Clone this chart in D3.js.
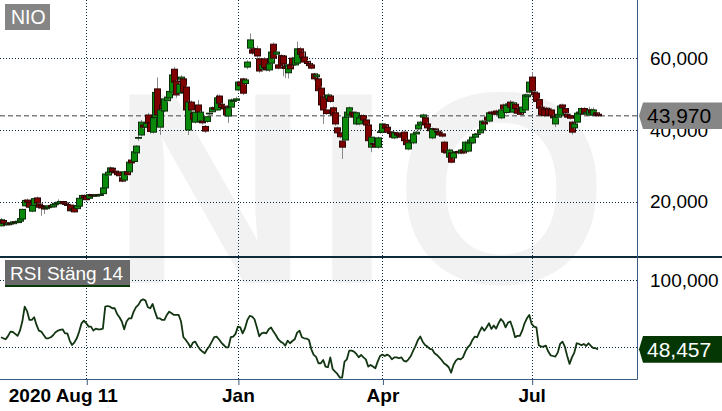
<!DOCTYPE html>
<html><head><meta charset="utf-8">
<script src="https://cdn.jsdelivr.net/npm/d3@7/dist/d3.min.js"></script>
<style>html,body{margin:0;padding:0;background:#fff;}svg{display:block;font-family:"Liberation Sans",Arial,sans-serif;}</style>
</head><body>
<svg id="chart" width="722" height="411"></svg>
<script>
// ---- data ----
const symbol = "NIO";
const rsiTitle = "RSI Stäng 14";
const xTickIdx = [36, 100, 161, 224];
const xTickLabels = ["2020 Aug 11", "Jan", "Apr", "Jul"];
const priceTicks = [20, 40, 60];
const rsiGrid = [50, 100];
const rsiLabelTicks = [100];

const openP = [
13.2,14.7,13.9,13.5,14.0,13.8,14.3,14.1,14.5,15.1,
18.8,20.4,19.7,17.3,18.9,21.0,19.3,18.9,18.6,18.0,
18.3,18.9,18.5,19.1,19.4,19.5,20.0,19.6,19.2,19.0,
17.6,18.2,18.0,18.7,20.9,21.7,21.5,20.9,21.9,21.8,
21.5,21.9,21.7,22.2,23.8,27.4,28.2,29.3,28.5,28.3,
28.0,26.6,26.0,28.3,28.3,31.6,31.2,33.6,37.7,38.6,
41.4,40.8,44.2,42.0,39.4,43.5,51.5,40.8,47.0,45.3,
48.2,49.0,50.6,57.0,53.7,50.3,54.2,54.3,52.0,40.0,
47.8,44.7,42.2,47.0,42.4,42.5,41.0,42.4,44.5,45.1,
46.2,45.6,49.5,47.2,46.7,46.2,43.9,46.4,48.0,48.3,
51.2,53.4,54.3,53.0,57.6,62.9,62.4,62.7,62.7,59.9,
57.0,59.9,57.3,56.8,58.7,64.0,61.2,58.2,60.8,60.7,
57.8,56.0,58.2,60.1,58.2,58.7,62.7,61.8,60.4,59.2,
58.6,58.2,55.7,54.9,54.3,51.7,49.2,45.6,48.7,49.5,
46.2,44.8,40.6,39.2,36.9,37.2,43.6,44.2,45.0,44.8,
41.7,41.7,43.6,44.0,42.8,41.4,35.2,36.2,36.0,35.2,
39.3,39.4,41.5,40.8,39.5,39.2,37.8,39.2,38.9,38.6,
39.4,37.2,34.7,36.8,36.4,38.9,40.3,41.6,43.6,43.4,
41.7,40.4,37.8,40.3,39.7,39.4,38.9,36.6,34.2,32.4,
33.6,32.2,33.7,34.0,33.6,34.4,34.1,34.1,36.4,36.4,
38.0,38.8,39.2,40.0,42.2,43.6,42.5,45.0,45.0,45.3,
44.4,43.4,47.0,44.9,46.9,47.8,45.0,47.2,45.9,45.6,
44.9,45.6,49.3,50.6,54.8,50.6,50.3,48.5,46.4,45.9,
46.1,45.9,45.6,43.9,41.7,43.6,44.2,47.0,46.0,44.4,
44.0,42.2,40.6,42.2,44.5,44.5,46.0,44.5,44.2,45.6,
44.2,44.8,44.4];

const highP = [
15.4,15.0,14.2,14.3,14.3,14.5,14.6,14.8,15.5,18.0,
20.6,20.8,19.9,19.1,21.0,21.4,19.6,19.2,18.9,18.7,
19.0,19.2,19.4,19.8,20.6,20.2,20.2,19.8,19.5,19.2,
18.1,18.4,19.1,21.1,21.9,22.0,21.8,22.2,22.1,22.0,
22.1,22.0,22.2,24.2,28.0,28.8,29.8,29.6,28.9,28.6,
28.3,27.0,28.6,28.8,31.3,32.0,34.2,35.8,38.6,42.8,
42.0,42.5,44.8,42.5,45.0,51.0,54.7,46.0,47.5,49.2,
49.8,51.5,55.8,57.6,54.0,53.3,55.3,54.6,52.5,48.2,
48.3,45.2,45.4,48.4,45.4,42.8,41.4,44.0,45.0,46.6,
46.8,50.0,49.9,47.6,47.0,46.5,46.6,48.8,48.8,49.3,
53.8,54.0,54.6,54.5,59.5,67.0,63.0,63.2,63.5,60.3,
58.8,60.4,58.0,59.0,62.3,64.5,62.2,58.6,61.2,61.0,
58.2,58.6,58.5,60.5,60.6,64.7,63.2,62.2,62.0,59.6,
59.0,58.6,56.0,55.8,54.8,52.2,49.8,46.2,50.3,49.9,
46.6,45.2,41.0,39.6,37.3,44.0,45.4,46.6,45.5,45.2,
45.2,43.8,44.4,44.4,43.2,41.7,38.4,36.6,36.4,38.2,
39.8,42.0,41.9,41.2,39.9,39.6,39.6,39.6,39.3,39.0,
39.8,37.6,36.8,37.2,39.3,39.8,41.8,42.6,44.6,43.8,
42.1,40.8,40.7,40.6,40.1,39.8,39.3,37.0,34.6,34.8,
34.0,34.0,34.2,34.4,34.8,34.8,37.0,36.8,37.6,38.4,
39.2,39.2,40.4,42.9,42.6,44.0,45.2,45.4,45.4,45.7,
45.3,46.0,47.4,47.3,47.7,48.4,48.0,47.6,46.3,46.0,
46.8,50.2,50.2,53.8,56.2,51.0,50.7,48.9,46.8,46.3,
46.5,46.3,46.0,44.3,44.0,44.8,47.3,47.4,46.4,44.8,
44.4,42.6,42.1,45.1,45.4,46.4,46.4,45.4,46.5,46.0,
46.3,45.2,44.8];

const lowP = [
13.0,13.6,13.2,13.3,13.5,13.6,13.9,14.0,14.3,15.0,
18.5,19.4,18.2,17.0,18.7,19.3,18.0,16.0,16.5,17.8,
18.1,18.3,18.4,18.9,19.2,19.3,19.2,19.0,18.7,17.2,
17.3,16.9,17.8,18.5,20.7,20.9,20.3,20.7,21.4,21.3,
21.3,21.5,21.6,22.0,23.6,27.0,27.8,28.0,27.6,27.2,
25.5,25.4,25.8,27.2,28.0,30.5,31.0,33.3,37.0,38.2,
40.3,40.5,41.5,39.0,39.0,43.2,43.8,38.6,45.5,45.0,
47.8,48.5,50.2,52.8,49.0,49.8,53.6,50.0,45.0,38.6,
45.2,42.6,41.8,44.6,42.0,41.5,39.2,42.0,44.2,44.8,
45.4,45.3,47.0,45.9,45.5,43.8,42.0,46.0,47.5,48.0,
50.8,52.0,49.8,52.6,57.0,62.5,61.0,61.5,60.2,56.0,
56.5,57.0,56.4,56.2,58.3,59.6,60.8,57.0,57.6,55.0,
54.5,54.4,56.8,57.8,57.9,58.4,60.8,59.8,58.6,58.2,
57.6,57.0,53.8,54.5,50.6,46.6,41.7,44.2,48.3,47.6,
43.8,41.2,38.8,37.6,31.9,36.8,43.2,43.8,43.8,43.2,
41.3,41.3,43.2,42.4,41.0,36.6,33.8,35.8,35.0,34.8,
39.0,39.0,40.1,39.0,38.6,37.6,37.4,38.2,37.9,37.6,
36.6,35.5,34.3,36.5,36.0,38.5,39.9,41.2,43.2,41.0,
40.2,39.4,37.4,39.7,39.0,38.2,37.9,33.4,33.2,32.0,
30.7,31.8,33.4,33.2,33.2,33.2,33.7,33.7,36.0,36.0,
37.6,38.5,38.8,39.6,41.3,42.4,42.1,44.2,44.0,44.3,
44.0,43.0,45.5,44.5,46.5,46.0,44.6,45.6,44.3,44.0,
44.5,45.2,48.9,50.2,50.6,49.4,47.6,45.7,43.8,43.6,
45.2,43.8,43.6,43.0,40.8,43.2,43.8,45.8,44.4,43.2,
42.9,38.7,40.2,41.8,44.1,44.1,44.1,44.1,43.8,44.4,
43.8,43.8,43.7];

const closeP = [
14.9,13.9,13.5,14.0,13.7,14.3,14.1,14.5,15.2,17.8,
20.3,19.8,18.4,18.9,20.8,19.6,18.4,18.2,17.9,18.3,
18.8,18.5,19.2,19.5,19.8,20.0,19.4,19.2,18.9,17.4,
17.9,17.1,18.9,20.9,21.7,21.1,20.5,21.9,21.6,21.5,
21.9,21.7,22.0,23.8,27.7,28.2,29.4,28.4,28.0,27.5,
27.2,25.7,28.3,27.5,31.0,30.8,33.9,35.5,37.9,42.2,
40.8,41.9,41.9,39.6,43.4,50.5,44.2,45.6,46.0,48.7,
49.2,50.8,55.4,53.4,49.8,52.8,54.8,50.6,45.6,47.8,
45.6,43.0,45.0,45.0,45.0,42.0,39.7,43.7,44.7,46.2,
45.8,49.0,47.5,46.3,45.9,44.2,46.2,48.4,48.3,48.7,
53.4,52.4,50.3,54.0,59.0,65.2,61.5,61.8,60.7,56.5,
58.2,57.5,56.8,58.5,61.8,60.1,61.8,57.3,58.0,58.5,
57.2,58.2,57.1,58.2,60.1,62.7,61.2,60.2,59.0,58.6,
58.0,57.3,54.3,55.4,51.0,47.0,45.6,44.6,49.8,48.0,
44.2,41.7,39.2,38.1,35.2,43.6,45.0,46.2,44.2,43.6,
44.8,43.4,44.0,42.8,41.4,37.0,38.0,36.0,35.3,37.8,
39.5,41.7,40.5,39.4,39.0,38.0,39.2,38.6,38.3,38.0,
37.0,35.9,36.4,36.9,38.9,39.4,41.4,42.2,44.2,41.4,
40.6,39.8,40.3,40.1,39.4,38.6,38.3,33.8,33.6,34.4,
31.0,33.6,33.9,33.6,34.4,33.6,36.6,36.4,37.2,38.0,
38.8,38.9,40.0,42.5,41.7,42.8,44.8,44.6,44.4,44.7,
44.9,45.6,45.9,46.9,47.3,46.4,47.6,46.0,44.7,44.4,
46.4,49.8,49.8,53.4,51.0,49.8,48.0,46.1,44.2,44.0,
45.6,44.2,44.0,43.4,43.6,44.4,46.7,46.2,44.8,43.6,
43.3,39.4,41.7,44.7,45.0,46.0,44.5,45.0,45.6,44.8,
45.6,44.2,43.97];

const rsiVals = [
57.5,56.7,56.0,58.5,61.7,61.4,60.0,58.5,62.4,69.2,
80.3,77.0,70.4,70.4,72.4,66.7,62.4,61.7,59.2,56.7,
56.7,57.5,59.0,61.2,62.4,62.9,63.4,60.4,60.4,55.0,
51.7,53.7,56.7,61.7,67.9,69.9,67.9,65.4,65.4,62.4,
63.9,63.4,63.4,63.9,80.3,80.8,80.3,79.1,79.1,74.9,
72.4,69.2,63.4,69.2,71.6,71.6,76.6,79.9,81.6,84.8,
85.8,84.8,79.9,79.1,82.3,76.6,71.6,71.6,70.4,70.4,
74.1,76.6,75.4,74.1,74.1,74.1,69.2,57.5,55.5,53.0,
50.0,53.5,54.2,51.0,48.5,46.8,45.5,48.5,51.0,54.2,
57.5,58.0,56.0,53.5,51.7,50.0,50.0,57.5,58.0,60.0,
65.4,64.9,60.4,64.2,70.4,73.4,72.9,70.9,64.9,58.2,
60.4,60.9,60.4,63.4,64.7,61.7,59.2,56.0,54.2,53.2,
51.2,55.0,53.0,54.7,56.0,60.9,62.4,57.5,56.7,56.5,
55.5,48.5,44.3,42.8,38.1,38.1,40.5,35.6,35.1,42.5,
33.8,31.8,30.1,27.4,27.4,39.3,41.0,47.5,47.5,46.8,
45.0,42.5,44.3,42.5,41.0,35.6,36.8,35.6,34.3,39.3,
43.5,44.5,43.5,44.5,43.5,41.0,42.5,42.5,41.8,42.5,
40.0,39.3,41.0,43.5,47.5,51.0,55.5,58.0,54.2,51.7,
50.5,48.8,48.5,45.5,44.3,42.5,40.5,38.1,36.8,35.1,
31.1,36.8,40.0,41.5,41.0,42.5,46.8,50.0,51.7,55.5,
58.0,57.5,61.7,64.9,62.4,64.9,67.9,63.7,66.2,63.9,
67.9,71.1,69.2,64.9,68.4,69.2,64.2,57.5,58.5,58.5,
62.4,67.9,71.6,74.1,67.4,65.4,64.9,51.5,50.5,50.5,
51.2,46.8,44.0,43.5,43.0,46.0,52.5,54.2,50.5,43.5,
37.6,42.5,46.0,53.0,52.5,51.5,52.5,51.0,53.0,51.0,
49.3,49.3,48.457];

// ---- layout ----
const W = 722, H = 411;
const plotRight = 637;
const topPanel = [0, 257];
const rsiPanel = [258, 379];

const svg = d3.select("#chart");
const n = closeP.length;
const idx = d3.range(n);

const x = d3.scaleLinear().domain([0, n - 1]).range([1, 598]);
const y = d3.scaleLinear().domain([4.48, 76.36]).range([topPanel[1], topPanel[0]]);
const yr = d3.scaleLinear().domain([26.34, 116.6]).range([rsiPanel[1], rsiPanel[0]]);

const sv = d3.formatLocale({decimal: ",", thousands: "\u00a0", grouping: [3], currency: ["", ""]});
const fmt = sv.format(".3f");

// watermark
svg.append("text")
  .attr("x", 111).attr("y", 283)
  .attr("font-size", 274).attr("font-weight", "bold")
  .attr("letter-spacing", 5)
  .attr("fill", "#f2f2f2")
  .text(symbol);

const gridColor = "#0b2a40";
const frameColor = "#3a5b80";
const px = v => Math.round(v) + 0.5;

// vertical gridlines
svg.append("g").selectAll("line").data(xTickIdx).join("line")
  .attr("x1", d => px(x(d))).attr("x2", d => px(x(d)))
  .attr("y1", 0).attr("y2", rsiPanel[1])
  .attr("stroke", gridColor).attr("stroke-dasharray", "1,2");

// horizontal gridlines, price
svg.append("g").selectAll("line").data(priceTicks).join("line")
  .attr("x1", 0).attr("x2", plotRight)
  .attr("y1", d => px(y(d))).attr("y2", d => px(y(d)))
  .attr("stroke", gridColor).attr("stroke-dasharray", "1,2");

// horizontal gridlines, rsi
svg.append("g").selectAll("line").data(rsiGrid).join("line")
  .attr("x1", 0).attr("x2", plotRight)
  .attr("y1", d => px(yr(d))).attr("y2", d => px(yr(d)))
  .attr("stroke", gridColor).attr("stroke-dasharray", "1,2");

// last price dashed line
const lastPrice = closeP[n - 1];
const lastRsi = rsiVals[n - 1];
svg.append("line")
  .attr("x1", 0).attr("x2", plotRight)
  .attr("y1", y(lastPrice)).attr("y2", y(lastPrice))
  .attr("stroke", "#7f7f7f").attr("stroke-width", 1.5).attr("stroke-dasharray", "5,3");

// candles
const cg = svg.append("g").selectAll("g").data(idx).join("g");
cg.append("line")
  .attr("x1", i => px(x(i))).attr("x2", i => px(x(i)))
  .attr("y1", i => y(highP[i])).attr("y2", i => y(lowP[i]))
  .attr("stroke", "#8a8a8a").attr("stroke-width", 1);
cg.append("rect")
  .attr("x", i => Math.round(x(i)) - 2.5)
  .attr("width", 6)
  .attr("y", i => y(Math.max(openP[i], closeP[i])))
  .attr("height", i => Math.max(0.5, Math.abs(y(openP[i]) - y(closeP[i]))))
  .attr("fill", i => closeP[i] >= openP[i] ? "#0a8a0a" : "#800000")
  .attr("stroke", i => closeP[i] >= openP[i] ? "#0b2e0b" : "#2e0505")
  .attr("stroke-width", 1);

// RSI line
svg.append("path")
  .datum(rsiVals)
  .attr("d", d3.line().x((d, i) => x(i)).y(d => yr(d)))
  .attr("fill", "none").attr("stroke", "#123512").attr("stroke-width", 1.8)
  .attr("stroke-linejoin", "round");

// frames
svg.append("line").attr("x1", 0).attr("x2", W).attr("y1", 257).attr("y2", 257)
  .attr("stroke", "#0e2b3c").attr("stroke-width", 2);
svg.append("line").attr("x1", plotRight + 0.5).attr("x2", plotRight + 0.5).attr("y1", 0).attr("y2", rsiPanel[1] + 0.5)
  .attr("stroke", frameColor).attr("stroke-width", 1);
svg.append("line").attr("x1", 0).attr("x2", plotRight + 0.5).attr("y1", rsiPanel[1] + 0.5).attr("y2", rsiPanel[1] + 0.5)
  .attr("stroke", frameColor).attr("stroke-width", 1);

// x axis
const xAxis = svg.append("g").attr("transform", `translate(0,${rsiPanel[1]})`)
  .call(d3.axisBottom(x).tickValues(xTickIdx).tickSize(6).tickFormat((d, i) => xTickLabels[i]));
xAxis.select(".domain").remove();
xAxis.selectAll(".tick line").attr("stroke", frameColor).attr("transform", "translate(0.5,0)");
xAxis.selectAll(".tick text")
  .attr("font-family", '"Liberation Sans",Arial,sans-serif')
  .attr("font-size", 19).attr("font-weight", "bold").attr("fill", "#000")
  .attr("y", 10);
// first label: "Aug 11" centred on tick, year prefixed to the left
{
  const t = xAxis.select(".tick text");
  const tmp = svg.append("text").attr("font-size", 19).attr("font-weight", "bold").text(xTickLabels[0].split(" ").slice(1).join(" "));
  const wpart = tmp.node().getComputedTextLength();
  tmp.remove();
  t.attr("text-anchor", "end").attr("x", wpart / 2);
}

// right axis labels
function rightAxis(scale, ticks) {
  const g = svg.append("g").attr("transform", `translate(${plotRight},0)`)
    .call(d3.axisRight(scale).tickValues(ticks).tickSize(0).tickPadding(13).tickFormat(fmt));
  g.select(".domain").remove();
  g.selectAll(".tick text")
    .attr("font-family", '"Liberation Sans",Arial,sans-serif')
    .attr("font-size", 19).attr("fill", "#000");
}
rightAxis(y, priceTicks);
rightAxis(yr, rsiLabelTicks);

// value tags
function tag(cy, fill, textFill, label) {
  const h = 13.3;
  svg.append("path")
    .attr("d", `M${plotRight + 2},${cy} L${plotRight + 6},${cy - h} L${W},${cy - h} L${W},${cy + h} L${plotRight + 6},${cy + h} Z`)
    .attr("fill", fill);
  svg.append("text").attr("x", 647).attr("y", cy).attr("dy", "0.36em")
    .attr("font-size", 21).attr("fill", textFill).text(label);
}
tag(y(lastPrice), "#868686", "#000", fmt(lastPrice));
tag(yr(lastRsi), "#053705", "#fff", fmt(lastRsi));

// title boxes
svg.append("rect").attr("x", 5).attr("y", 4).attr("width", 45).attr("height", 26).attr("fill", "#858585");
svg.append("text").attr("x", 11).attr("y", 23.5).attr("font-size", 19.5).attr("fill", "#fff").text(symbol);

svg.append("rect").attr("x", 5).attr("y", 260).attr("width", 125).attr("height", 25).attr("fill", "#6a6a6a");
svg.append("rect").attr("x", 5).attr("y", 285).attr("width", 125).attr("height", 2).attr("fill", "#0a3a0a");
svg.append("text").attr("x", 10).attr("y", 280).attr("font-size", 19).attr("fill", "#fff").text(rsiTitle);
</script>
</body></html>
